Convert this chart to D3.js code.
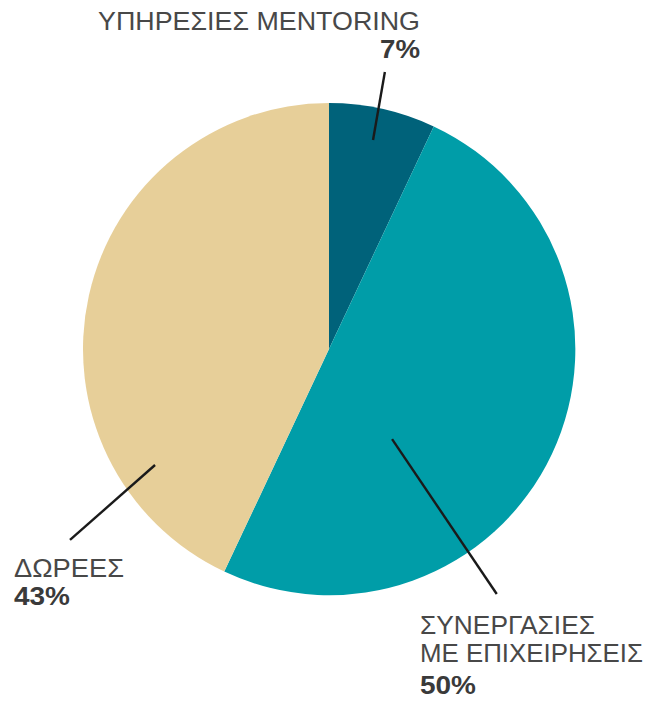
<!DOCTYPE html>
<html><head><meta charset="utf-8">
<script src="https://cdn.jsdelivr.net/npm/d3@7"></script>
<style>body{margin:0;background:#fff}svg{display:block}</style>
</head><body>
<svg id="c" width="649" height="701"></svg>
<script>
const categories = ["ΥΠΗΡΕΣΙΕΣ MENTORING", "ΣΥΝΕΡΓΑΣΙΕΣ ΜΕ ΕΠΙΧΕΙΡΗΣΕΙΣ", "ΔΩΡΕΕΣ"];
const values = [7, 50, 43];
const valueLabels = ["7%", "50%", "43%"];
const colors = ["#00627A", "#009DA8", "#E7CF99"];

const cx = 329, cy = 349, R = 246;
const svg = d3.select("#c");
const g = svg.append("g").attr("transform", `translate(${cx},${cy})`);

const pie = d3.pie().sort(null).value(d => d)(values);
const arc = d3.arc().innerRadius(0).outerRadius(R);
g.selectAll("path.slice").data(pie).join("path")
  .attr("class","slice").attr("d", arc).attr("fill", (d,i)=>colors[i]);

// leader lines: polar (degrees clockwise from top, radius in units of R)
const leaders = [
  {a0:11.9, r0:0.868, a1:11.4, r1:1.149},
  {a0:145, r0:0.447, a1:145.6, r1:1.207},
  {a0:236.3, r0:0.85, a1:233.6, r1:1.308}
];
const pol = (a, r) => [Math.sin(a*Math.PI/180)*r*R, -Math.cos(a*Math.PI/180)*r*R];
g.selectAll("line.lead").data(leaders).join("line")
  .attr("class","lead")
  .attr("x1", d=>pol(d.a0,d.r0)[0]).attr("y1", d=>pol(d.a0,d.r0)[1])
  .attr("x2", d=>pol(d.a1,d.r1)[0]).attr("y2", d=>pol(d.a1,d.r1)[1])
  .attr("stroke","#1a1a1a").attr("stroke-width",2.4);

const font = "'Liberation Sans', Arial, sans-serif";
function t(s, x, y, w, anchor, bold){
  svg.append("text").attr("x",x).attr("y",y).text(s)
    .attr("font-family",font).attr("font-weight",bold?700:400).attr("font-size",25)
    .attr("fill",bold?"#3a3a3a":"#484848").attr("text-anchor",anchor)
    .attr("textLength",w).attr("lengthAdjust","spacingAndGlyphs");
}
t(categories[0], 420, 30, 322, "end", false);
t(valueLabels[0], 420, 58, 40, "end", true);
t(categories[2], 14, 577, 110, "start", false);
t(valueLabels[2], 14, 605, 56, "start", true);
t("ΣΥΝΕΡΓΑΣΙΕΣ", 420, 634, 175, "start", false);
t("ΜΕ ΕΠΙΧΕΙΡΗΣΕΙΣ", 420, 662, 223, "start", false);
t(valueLabels[1], 420, 694, 56, "start", true);
</script>
</body></html>
